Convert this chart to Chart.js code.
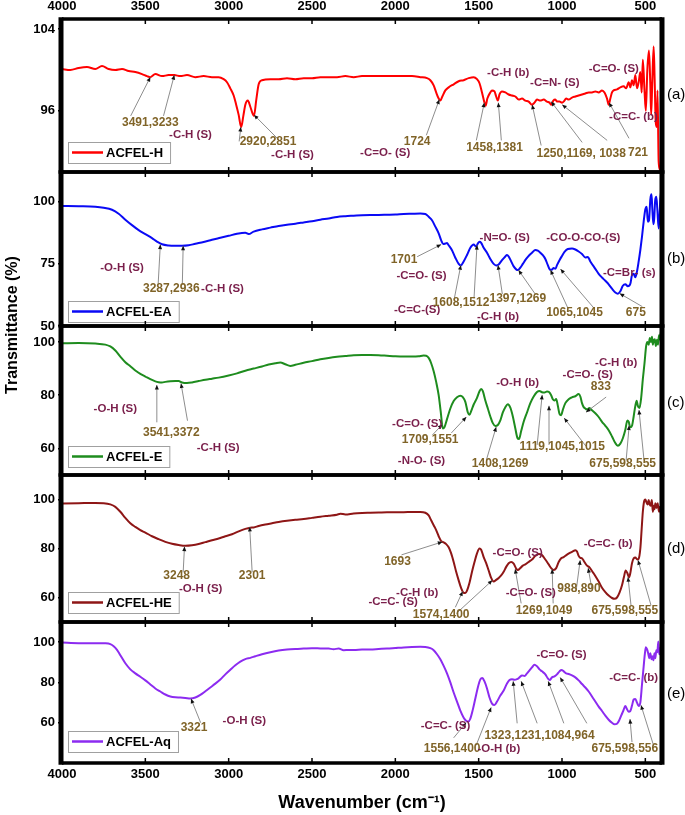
<!DOCTYPE html>
<html><head><meta charset="utf-8">
<script src="https://cdn.jsdelivr.net/npm/chart.js@4.4.0/dist/chart.umd.min.js"></script>
<style>
html,body{margin:0;padding:0;background:#fff;}
#wrap{position:relative;width:685px;height:815px;overflow:hidden;font-family:'Liberation Sans',Arial,Helvetica,sans-serif;}
#wrap canvas{position:absolute;left:0;top:0;}
.plab{position:absolute;left:667px;font-size:15px;line-height:18px;color:#000;}
#ytitle{position:absolute;left:-88px;top:315px;width:200px;height:20px;line-height:20px;text-align:center;font-weight:bold;font-size:16px;transform:rotate(-90deg);}
</style></head>
<body>
<div id="wrap">
<canvas id="cA" width="685" height="815"></canvas>
<canvas id="cB" width="685" height="815"></canvas>
<canvas id="cC" width="685" height="815"></canvas>
<canvas id="cD" width="685" height="815"></canvas>
<canvas id="cE" width="685" height="815"></canvas>
<div id="ytitle">Transmittance (%)</div>
<div class="plab" style="top:85px">(a)</div>
<div class="plab" style="top:249px">(b)</div>
<div class="plab" style="top:393px">(c)</div>
<div class="plab" style="top:539px">(d)</div>
<div class="plab" style="top:684px">(e)</div>
</div>
<script>
// ---------- data ----------
const xTicks = [4000,3500,3000,2500,2000,1500,1000,500];
const seriesNames = ['ACFEL-H','ACFEL-EA','ACFEL-E','ACFEL-HE','ACFEL-Aq'];
const yTicksA = [96,104];
const yTicksB = [50,75,100];
const yTicksC = [60,80,100];
const yTicksD = [60,80,100];
const yTicksE = [60,80,100];

// [wavenumber, transmittance]
const specA = [[4000,100.1],[3950,100.0],[3900,100.2],[3850,100.3],[3800,100.1],[3760,100.4],[3720,100.1],[3680,100.0],[3640,100.1],[3600,99.9],[3560,99.8],[3520,99.6],[3490,99.4],[3470,99.3],[3440,99.6],[3400,99.4],[3360,99.5],[3326,99.5],[3290,99.4],[3250,99.5],[3200,99.3],[3150,99.4],[3100,99.3],[3060,99.3],[3030,99.1],[3010,98.8],[2990,98.2],[2970,97.5],[2955,96.6],[2940,95.6],[2925,94.4],[2912,95.5],[2900,96.6],[2885,97.0],[2870,96.4],[2858,95.8],[2848,95.5],[2835,97.0],[2820,98.6],[2800,99.0],[2750,99.1],[2700,99.1],[2650,99.2],[2600,99.1],[2550,99.2],[2500,99.2],[2450,99.3],[2400,99.3],[2350,99.3],[2300,99.4],[2250,99.3],[2200,99.4],[2150,99.4],[2100,99.4],[2050,99.4],[2000,99.4],[1950,99.4],[1900,99.4],[1850,99.3],[1810,99.2],[1790,99.0],[1770,98.5],[1755,97.8],[1740,97.2],[1730,97.0],[1718,97.4],[1700,98.0],[1680,98.3],[1650,98.6],[1620,98.9],[1590,99.0],[1560,99.2],[1530,99.3],[1510,99.1],[1495,98.7],[1480,97.8],[1465,96.8],[1458,96.5],[1448,97.2],[1430,97.8],[1420,98.0],[1405,97.9],[1395,97.4],[1385,97.0],[1375,97.6],[1360,97.9],[1340,97.8],[1320,97.6],[1300,97.5],[1280,97.4],[1260,97.1],[1240,97.2],[1220,97.0],[1200,96.9],[1180,96.6],[1165,96.8],[1150,97.1],[1130,97.0],[1110,97.1],[1090,96.9],[1075,96.8],[1064,96.6],[1052,97.0],[1040,97.1],[1030,96.9],[1015,96.9],[1000,96.8],[990,96.9],[975,97.2],[960,97.1],[940,97.3],[920,97.4],[900,97.5],[880,97.6],[860,97.7],[840,97.8],[820,97.8],[800,97.9],[780,97.8],[760,98.0],[745,97.8],[730,97.2],[720,96.6],[710,97.2],[700,97.8],[690,98.0],[670,98.1],[650,98.3],[630,98.4],[615,98.2],[600,98.8],[590,98.3],[580,99.0],[570,98.5],[560,99.5],[550,98.2],[540,98.8],[530,99.8],[522,97.8],[515,101.0],[505,98.0],[497,96.0],[488,100.0],[478,101.9],[470,98.5],[465,95.6],[458,99.0],[450,102.3],[444,99.0],[438,95.0],[432,94.4],[427,98.0],[420,91.0],[412,90.2],[405,89.0],[400,90.0]];

const specB = [[4000,98.3],[3900,98.2],[3800,98.0],[3750,97.6],[3700,96.8],[3660,95.2],[3620,92.8],[3580,90.6],[3540,88.6],[3500,87.0],[3460,85.4],[3430,84.0],[3400,82.9],[3360,82.4],[3320,82.3],[3280,82.3],[3240,82.5],[3200,83.1],[3150,83.8],[3100,84.7],[3050,85.5],[3000,86.3],[2950,87.1],[2900,87.5],[2880,87.0],[2850,88.0],[2800,88.9],[2750,89.6],[2700,90.3],[2650,90.8],[2600,91.2],[2550,91.7],[2500,92.2],[2450,92.8],[2400,93.3],[2350,93.9],[2300,94.2],[2250,94.4],[2200,94.6],[2150,94.7],[2100,94.7],[2050,94.8],[2000,94.9],[1950,95.1],[1900,95.2],[1850,95.3],[1820,95.1],[1800,94.0],[1780,92.6],[1760,90.0],[1740,87.3],[1725,84.5],[1712,83.0],[1700,83.2],[1690,83.4],[1680,82.5],[1660,80.5],[1640,77.5],[1620,75.0],[1607,74.4],[1590,76.0],[1570,78.6],[1550,81.5],[1530,82.8],[1515,82.0],[1505,83.2],[1495,83.9],[1485,83.5],[1470,81.5],[1450,79.5],[1430,77.0],[1410,75.0],[1395,74.4],[1380,74.8],[1360,76.5],[1340,78.0],[1330,78.6],[1320,78.0],[1305,76.0],[1290,74.0],[1275,72.8],[1265,72.5],[1250,73.5],[1235,75.0],[1215,77.0],[1195,78.6],[1180,79.5],[1160,80.6],[1145,80.3],[1130,79.5],[1115,78.5],[1100,77.0],[1085,74.5],[1070,72.6],[1058,72.8],[1050,73.4],[1040,73.0],[1030,74.5],[1015,76.5],[1000,78.2],[985,79.8],[965,81.0],[940,81.2],[920,80.8],[900,80.0],[880,79.0],[860,77.6],[845,77.8],[830,76.0],[800,73.0],[780,71.0],[760,69.5],[740,68.2],[720,66.8],[700,65.0],[680,63.5],[665,63.0],[650,64.0],[635,66.2],[620,66.8],[605,66.0],[590,67.0],[580,70.5],[570,71.0],[560,69.6],[550,72.0],[540,76.0],[530,80.6],[520,86.0],[510,92.0],[500,97.0],[492,98.0],[485,92.0],[478,92.5],[470,101.0],[463,103.0],[458,97.0],[452,91.0],[447,93.0],[441,100.5],[434,102.0],[428,97.0],[420,89.3],[414,95.0],[408,103.5],[403,100.0],[400,102.0]];

const specC = [[4000,99.5],[3900,99.6],[3800,99.4],[3740,99.0],[3710,98.3],[3680,96.8],[3650,94.5],[3620,92.4],[3590,90.9],[3560,89.3],[3530,88.0],[3500,87.0],[3470,86.0],[3440,85.2],[3420,84.9],[3400,84.8],[3380,85.0],[3350,85.2],[3320,85.3],[3300,85.3],[3280,84.8],[3250,84.6],[3220,84.8],[3180,85.3],[3140,85.8],[3100,86.2],[3060,86.6],[3000,87.4],[2950,88.2],[2900,89.2],[2850,90.0],[2800,90.8],[2760,91.5],[2720,92.0],[2690,92.3],[2660,91.6],[2630,91.0],[2600,91.4],[2550,92.2],[2500,92.8],[2450,93.5],[2400,94.0],[2350,94.4],[2300,94.7],[2250,95.0],[2200,95.1],[2150,95.1],[2100,95.0],[2050,94.8],[2000,94.6],[1950,94.5],[1900,94.5],[1860,94.6],[1830,94.9],[1815,94.8],[1800,94.0],[1785,92.0],[1770,89.0],[1755,85.0],[1740,80.0],[1728,74.0],[1715,67.5],[1705,68.0],[1690,71.0],[1670,75.0],[1650,77.8],[1630,79.2],[1610,79.8],[1595,79.3],[1580,77.5],[1565,73.5],[1555,72.6],[1545,74.0],[1530,76.5],[1510,79.0],[1495,81.5],[1485,82.3],[1475,81.5],[1460,78.0],[1445,75.0],[1430,72.0],[1415,69.5],[1400,68.4],[1385,68.8],[1370,70.5],[1355,73.5],[1340,75.5],[1325,76.6],[1310,75.3],[1295,72.0],[1280,67.5],[1268,64.0],[1258,63.5],[1245,66.5],[1230,70.0],[1210,73.5],[1190,77.0],[1170,79.5],[1150,81.2],[1135,81.6],[1120,81.1],[1105,81.0],[1090,81.4],[1078,81.2],[1065,80.0],[1055,78.5],[1045,78.0],[1035,78.6],[1025,76.0],[1015,73.0],[1005,72.5],[995,74.5],[980,77.0],[960,78.5],[940,79.2],[920,79.6],[900,80.4],[890,79.5],[880,77.0],[870,75.5],[860,75.0],[850,74.6],[835,75.2],[820,74.3],[800,73.2],[780,71.8],[760,70.0],[740,68.5],[720,66.8],[700,64.5],[680,62.0],[665,61.0],[650,61.8],[635,63.8],[620,67.0],[608,70.5],[600,70.0],[590,67.9],[580,68.5],[570,72.0],[560,76.0],[552,77.9],[545,76.0],[535,75.2],[525,79.0],[515,86.0],[505,92.0],[495,98.5],[488,100.0],[480,99.0],[473,101.5],[467,100.0],[460,102.0],[455,99.0],[450,100.5],[443,101.0],[437,98.5],[430,100.8],[424,99.0],[418,102.5],[412,101.0],[406,104.0],[403,93.5],[400,97.0]];

const specD = [[4000,98.4],[3900,98.5],[3800,98.6],[3750,98.5],[3710,98.0],[3680,97.0],[3650,95.0],[3620,92.5],[3590,90.3],[3560,88.8],[3530,87.5],[3500,86.5],[3460,85.0],[3420,83.8],[3380,82.7],[3340,81.9],[3300,81.4],[3260,81.1],[3220,81.3],[3180,81.8],[3140,82.6],[3100,83.4],[3060,84.1],[3020,85.0],[2980,85.8],[2940,87.0],[2900,88.0],[2870,88.5],[2850,88.6],[2820,89.2],[2780,89.8],[2740,90.3],[2700,90.8],[2650,91.3],[2600,91.7],[2550,92.0],[2500,92.5],[2450,93.0],[2400,93.4],[2350,93.8],[2330,94.2],[2300,93.9],[2250,94.3],[2200,94.5],[2150,94.6],[2100,94.7],[2050,94.8],[2000,94.8],[1950,94.8],[1900,94.9],[1850,94.9],[1820,94.6],[1800,93.5],[1785,91.5],[1770,89.5],[1755,87.5],[1740,85.0],[1725,83.0],[1710,82.5],[1695,81.8],[1680,80.5],[1665,78.0],[1650,74.5],[1635,70.5],[1620,67.0],[1605,63.8],[1592,62.0],[1580,61.8],[1570,62.8],[1555,66.0],[1540,70.5],[1525,74.5],[1510,78.0],[1495,80.0],[1485,79.5],[1470,76.5],[1455,74.0],[1440,71.0],[1425,68.0],[1410,66.5],[1395,67.2],[1380,68.0],[1365,69.0],[1350,70.5],[1335,72.5],[1320,74.0],[1305,74.5],[1290,73.8],[1275,71.8],[1265,71.2],[1250,72.0],[1235,73.0],[1220,73.5],[1200,74.5],[1180,75.5],[1160,77.0],[1140,77.8],[1120,77.3],[1100,75.5],[1080,73.5],[1065,72.0],[1050,71.2],[1035,72.0],[1020,74.5],[1005,76.0],[990,76.5],[970,77.5],[950,78.3],[935,78.8],[920,79.3],[910,78.8],[900,77.0],[890,76.2],[880,76.0],[870,75.0],[850,73.0],[835,72.3],[820,70.8],[800,68.8],[780,66.5],[760,64.0],[740,62.2],[720,60.8],[700,59.8],[685,59.5],[670,60.0],[655,62.0],[640,65.0],[628,68.5],[618,71.0],[608,70.0],[598,68.2],[590,70.0],[580,74.0],[570,76.0],[560,76.3],[548,75.5],[540,75.8],[530,80.0],[522,88.0],[515,95.0],[508,99.0],[500,100.0],[493,98.8],[486,98.0],[480,99.8],[474,98.0],[467,97.5],[461,99.8],[455,95.0],[450,97.5],[445,96.0],[440,98.5],[433,96.5],[426,98.5],[418,95.0],[412,97.0],[405,93.6],[400,95.0]];

const specE = [[4000,99.8],[3900,99.5],[3800,99.5],[3740,99.4],[3710,99.0],[3690,98.0],[3670,96.2],[3650,93.5],[3620,89.5],[3590,86.5],[3560,84.5],[3530,82.8],[3500,81.0],[3470,79.0],[3440,77.0],[3410,75.5],[3380,74.0],[3350,73.0],[3320,72.6],[3290,72.5],[3260,72.3],[3230,72.0],[3200,72.5],[3170,73.8],[3140,75.6],[3110,77.5],[3080,79.4],[3050,81.5],[3020,84.0],[2990,86.3],[2960,88.5],[2930,90.3],[2900,91.6],[2870,92.2],[2840,93.0],[2800,94.0],[2750,95.0],[2700,95.8],[2650,96.3],[2600,96.6],[2550,96.8],[2500,97.0],[2450,96.9],[2400,96.8],[2370,96.5],[2340,96.8],[2310,96.0],[2280,96.1],[2250,96.1],[2200,96.3],[2150,96.4],[2100,96.6],[2050,96.8],[2000,97.1],[1950,97.4],[1900,97.6],[1850,97.7],[1820,97.6],[1790,97.0],[1770,96.0],[1750,94.0],[1730,91.5],[1710,88.2],[1690,84.5],[1670,80.0],[1650,75.0],[1630,70.5],[1610,66.0],[1590,62.5],[1575,61.0],[1562,60.6],[1550,62.0],[1535,66.5],[1520,72.0],[1505,77.5],[1490,81.5],[1478,82.2],[1465,80.5],[1450,77.0],[1435,72.5],[1420,69.5],[1405,68.8],[1390,70.5],[1370,73.5],[1350,76.0],[1330,79.5],[1315,81.2],[1300,81.6],[1285,81.3],[1270,81.6],[1255,82.5],[1240,83.5],[1225,83.2],[1210,84.5],[1195,86.0],[1180,87.5],[1165,88.8],[1150,88.0],[1135,86.5],[1120,85.5],[1100,84.0],[1085,82.0],[1074,81.2],[1060,82.5],[1045,83.0],[1030,84.0],[1015,85.5],[1003,86.2],[990,85.5],[975,84.5],[960,84.2],[940,83.5],[920,82.5],[900,81.0],[880,79.2],[860,77.5],[840,75.5],[820,73.0],[800,70.5],[780,68.0],[760,65.8],[740,63.5],[720,61.5],[700,60.0],[685,59.2],[670,59.5],[658,61.0],[645,63.5],[632,66.0],[620,68.3],[612,67.0],[600,65.5],[590,65.8],[580,68.5],[570,71.5],[560,71.8],[550,70.0],[540,68.3],[530,70.0],[520,79.0],[510,88.0],[503,94.0],[497,97.5],[490,96.5],[483,94.5],[476,92.0],[470,94.5],[463,91.5],[457,93.0],[451,91.0],[445,94.5],[440,92.0],[434,96.0],[428,95.0],[422,100.3],[417,94.0],[412,97.0],[406,92.9],[400,95.0]];

// annotations: [text, wavenumber, transmittance, kind]  n = peak number, g = group
const notesA = [['3491,3233',3470,94.8,'n'],['-C-H (S)',3229,93.6,'g'],['2920,2851',2764,93.0,'n'],['-C-H (S)',2617,91.7,'g'],['1724',1869,93.0,'n'],['-C=O- (S)',2061,91.9,'g'],['1458,1381',1405,92.4,'n'],['-C-H (b)',1323,99.7,'g'],['-C=N- (S)',1043,98.7,'g'],['1250,1169, 1038',885,91.8,'n'],['721',544,91.9,'n'],['-C=O- (S)',689,100.1,'g'],['-C=C- (b)',571,95.4,'g']];
const arrowsA = [[3588,95.5,3470,99.3],[3391,95.5,3326,99.5],[2937,93.0,2927,94.4],[2696,93.1,2848,95.6],[1814,93.6,1736,97.1],[1514,93.1,1466,96.8],[1364,93.1,1382,96.8],[1125,92.6,1179,96.6],[879,92.9,1065,96.9],[729,93.1,999,96.6],[598,93.3,718,96.8]];

const notesB = [['-O-H (S)',3640,73.6,'g'],['3287,2936',3344,64.9,'n'],['-C-H (S)',3037,64.9,'g'],['1701',1948,76.5,'n'],['-C=O- (S)',1843,70.1,'g'],['-C=C-(S)',1869,56.7,'g'],['1608,1512',1606,59.4,'n'],['-N=O- (S)',1344,85.3,'g'],['1397,1269',1265,61.1,'n'],['-C-H (b)',1384,53.8,'g'],['-CO-O-CO-(S)',872,85.3,'g'],['1065,1045',925,55.4,'n'],['-C=Br- (s)',596,71.4,'g'],['675',557,55.4,'n']];
const arrowsB = [[3423,66.9,3410,82.8],[3278,66.9,3273,82.3],[1869,77.9,1725,82.8],[1646,61.1,1607,74.5],[1528,61.1,1510,82.6],[1358,62.9,1384,74.5],[1161,62.9,1261,72.5],[964,57.1,1069,72.5],[807,57.1,1009,72.9],[518,57.8,654,63.1]];

const notesC = [['-O-H (S)',3680,75.0,'g'],['3541,3372',3344,65.8,'n'],['-C-H (S)',3063,60.4,'g'],['-C=O- (S)',1869,69.1,'g'],['1709,1551',1791,63.3,'n'],['-N-O- (S)',1843,55.4,'g'],['1408,1269',1371,54.1,'n'],['-O-H (b)',1266,84.8,'g'],['1119,1045,1015',998,60.8,'n'],['-C=O- (S)',846,87.5,'g'],['833',767,83.3,'n'],['-C-H (b)',675,92.3,'g'],['675,598,555',636,54.1,'n']];
const arrowsC = [[3431,69.8,3431,83.8],[3247,70.4,3286,84.4],[1778,65.0,1718,69.0],[1664,65.8,1574,71.8],[1454,55.6,1395,68.0],[1149,61.3,1119,80.1],[1078,61.3,1078,76.0],[856,60.8,987,71.4],[735,79.3,856,73.6],[615,55.6,597,68.6],[508,55.6,538,74.4]];

const notesD = [['3248',3312,68.9,'n'],['-O-H (S)',3168,63.4,'g'],['2301',2859,68.9,'n'],['1693',1987,74.8,'n'],['-C-H (b)',1869,62.1,'g'],['-C=C- (S)',2013,58.4,'g'],['1574,1400',1725,52.9,'n'],['-C=O- (S)',1266,78.1,'g'],['-C=O- (S)',1187,62.1,'g'],['988,890',898,63.8,'n'],['1269,1049',1108,54.5,'n'],['675,598,555',623,54.5,'n'],['-C=C- (b)',723,81.9,'g']];
const arrowsD = [[3273,70.3,3265,80.8],[2859,70.3,2874,88.8],[1963,77.4,1718,82.7],[1640,56.0,1596,62.5],[1634,53.5,1418,67.0],[1245,57.6,1281,71.6],[1053,57.6,1059,71.6],[915,62.9,891,75.2],[819,62.9,843,72.0],[586,56.8,604,68.3],[466,56.8,544,75.2]];

const notesE = [['3321',3208,57.6,'n'],['-O-H (S)',2906,60.9,'g'],['-C=C- (S)',1699,58.4,'g'],['1556,1400',1659,46.9,'n'],['-O-H (b)',1379,46.9,'g'],['1323,1231,1084,964',1135,53.5,'n'],['-C=O- (S)',1003,93.8,'g'],['-C=C- (b)',570,82.2,'g'],['675,598,556',623,47.2,'n']];
const arrowsE = [[3168,60.0,3226,71.9],[1650,52.5,1575,60.0],[1515,48.8,1425,67.6],[1269,59.7,1293,80.6],[1149,59.7,1245,80.6],[989,59.7,1083,80.6],[851,59.7,1011,82.5],[580,50.4,592,61.8],[448,48.0,526,68.7]];

// ---------- drawing ----------
const FONT = "'Liberation Sans', Arial, Helvetica, sans-serif";
const NUM_COLOR = '#806428', GRP_COLOR = '#7A1F4B';

function decoPlugin(notes, arrows, legendGap) {
  return {
    id: 'deco',
    afterDatasetsDraw(chart) {
      const {ctx, scales: {x, y}} = chart;
      ctx.save();
      arrows.forEach(([w1, v1, w2, v2]) => {
        const x1 = x.getPixelForValue(w1), y1 = y.getPixelForValue(v1);
        const x2 = x.getPixelForValue(w2), y2 = y.getPixelForValue(v2);
        ctx.strokeStyle = '#808080'; ctx.lineWidth = 0.9;
        ctx.beginPath(); ctx.moveTo(x1, y1); ctx.lineTo(x2, y2); ctx.stroke();
        const ang = Math.atan2(y2 - y1, x2 - x1), L = 4.5, W = 2;
        ctx.fillStyle = '#111';
        ctx.beginPath(); ctx.moveTo(x2, y2);
        ctx.lineTo(x2 - L * Math.cos(ang) + W * Math.sin(ang), y2 - L * Math.sin(ang) - W * Math.cos(ang));
        ctx.lineTo(x2 - L * Math.cos(ang) - W * Math.sin(ang), y2 - L * Math.sin(ang) + W * Math.cos(ang));
        ctx.closePath(); ctx.fill();
      });
      ctx.textAlign = 'center'; ctx.textBaseline = 'middle';
      notes.forEach(([t, w, v, k]) => {
        ctx.font = (k === 'n' ? 'bold 12px ' : 'bold 11.5px ') + FONT;
        ctx.fillStyle = k === 'n' ? NUM_COLOR : GRP_COLOR;
        ctx.fillText(t, x.getPixelForValue(w), y.getPixelForValue(v));
      });
      ctx.restore();
    },
    afterDraw(chart) {
      const {ctx, chartArea: a, scales: {x}} = chart;
      ctx.save();
      const ds = chart.data.datasets[0];
      ctx.font = 'bold 13px ' + FONT;
      const tw = ctx.measureText(ds.label).width;
      const bh = 21, bx = a.left + 6, by = a.bottom - legendGap - bh, bw = 38 + tw + 7;
      ctx.fillStyle = '#fff'; ctx.fillRect(bx, by, bw, bh);
      ctx.strokeStyle = '#a0a0a0'; ctx.lineWidth = 1; ctx.strokeRect(bx + 0.5, by + 0.5, bw, bh);
      ctx.strokeStyle = ds.borderColor; ctx.lineWidth = 2.5;
      ctx.beginPath(); ctx.moveTo(bx + 4, by + bh / 2); ctx.lineTo(bx + 35, by + bh / 2); ctx.stroke();
      ctx.fillStyle = '#000'; ctx.textAlign = 'left'; ctx.textBaseline = 'middle';
      ctx.fillText(ds.label, bx + 38, by + bh / 2 + 0.5);
      ctx.strokeStyle = '#000'; ctx.lineWidth = 1.5;
      xTicks.forEach(v => {
        const px = x.getPixelForValue(v);
        ctx.beginPath();
        ctx.moveTo(px, a.top); ctx.lineTo(px, a.top + 5);
        ctx.moveTo(px, a.bottom); ctx.lineTo(px, a.bottom - 5);
        ctx.stroke();
      });
      ctx.lineWidth = 3.5;
      ctx.beginPath();
      ctx.moveTo(a.left, a.top); ctx.lineTo(a.right, a.top);
      ctx.moveTo(a.left, a.bottom); ctx.lineTo(a.right, a.bottom);
      ctx.stroke();
      ctx.lineWidth = 5;
      ctx.beginPath();
      ctx.moveTo(a.left - 1, a.top - 1.75); ctx.lineTo(a.left - 1, a.bottom + 1.75);
      ctx.moveTo(a.right, a.top - 1.75); ctx.lineTo(a.right, a.bottom + 1.75);
      ctx.stroke();
      ctx.restore();
    }
  };
}

function makePanel(id, p) {
  const xScale = {
    type: 'linear', reverse: true, min: 400, max: 4000,
    display: !!p.xPos, position: p.xPos || 'bottom',
    afterBuildTicks: s => { s.ticks = xTicks.map(v => ({value: v})); },
    grid: {display: false, drawTicks: false},
    border: {display: false},
    ticks: {padding: p.xPad || 4, maxRotation: 0, autoSkip: false, color: '#000',
            font: {family: FONT, size: 13, weight: 'bold'}, callback: v => String(v)}
  };
  if (p.xPos) xScale.afterFit = s => { s.height = p.xHeight; };
  if (p.xTitle) xScale.title = {display: true, text: p.xTitle, color: '#000',
      font: {family: FONT, size: 18, weight: 'bold'}, padding: {top: 0, bottom: 1}};
  return new Chart(document.getElementById(id), {
    type: 'line',
    data: {datasets: [{
      label: p.label,
      data: p.spec.map(([w, t]) => ({x: w, y: t})),
      borderColor: p.color, borderWidth: 2, pointRadius: 0,
      cubicInterpolationMode: 'monotone', fill: false
    }]},
    options: {
      responsive: false, animation: false, devicePixelRatio: 1,
      layout: {padding: {left: 0, right: 23, top: p.padTop, bottom: p.padBottom}},
      plugins: {legend: {display: false}, tooltip: {enabled: false}},
      scales: {
        x: xScale,
        y: {
          min: p.yMin, max: p.yMax,
          afterBuildTicks: s => { s.ticks = p.yTicks.map(v => ({value: v})); },
          afterFit: s => { s.width = 62; },
          grid: {drawOnChartArea: false, drawTicks: true, tickLength: 4, color: '#000', lineWidth: 1.5},
          border: {display: false},
          ticks: {padding: 3, color: '#000', font: {family: FONT, size: 13, weight: 'bold'}, callback: v => String(v)}
        }
      }
    },
    plugins: [decoPlugin(p.notes, p.arrows, p.legendGap)]
  });
}

makePanel('cA', {label: seriesNames[0], spec: specA, color: '#FF0000', yMin: 90, yMax: 105, yTicks: yTicksA,
  padTop: 0, padBottom: 815 - 172, xPos: 'top', xHeight: 19, xPad: 5, notes: notesA, arrows: arrowsA, legendGap: 9});
makePanel('cB', {label: seriesNames[1], spec: specB, color: '#0A0AF5', yMin: 50, yMax: 112, yTicks: yTicksB,
  padTop: 172, padBottom: 815 - 326, notes: notesB, arrows: arrowsB, legendGap: 4});
makePanel('cC', {label: seriesNames[2], spec: specC, color: '#1E8C1E', yMin: 50, yMax: 106, yTicks: yTicksC,
  padTop: 326, padBottom: 815 - 475, notes: notesC, arrows: arrowsC, legendGap: 8});
makePanel('cD', {label: seriesNames[3], spec: specD, color: '#8E1616', yMin: 50, yMax: 110, yTicks: yTicksD,
  padTop: 475, padBottom: 815 - 622, notes: notesD, arrows: arrowsD, legendGap: 9});
makePanel('cE', {label: seriesNames[4], spec: specE, color: '#8C2BF0', yMin: 40, yMax: 110, yTicks: yTicksE,
  padTop: 622, padBottom: 0, xPos: 'bottom', xHeight: 52, xPad: 4, xTitle: 'Wavenumber (cm\u207B\u00B9)',
  notes: notesE, arrows: arrowsE, legendGap: 11});
</script>
</body></html>
